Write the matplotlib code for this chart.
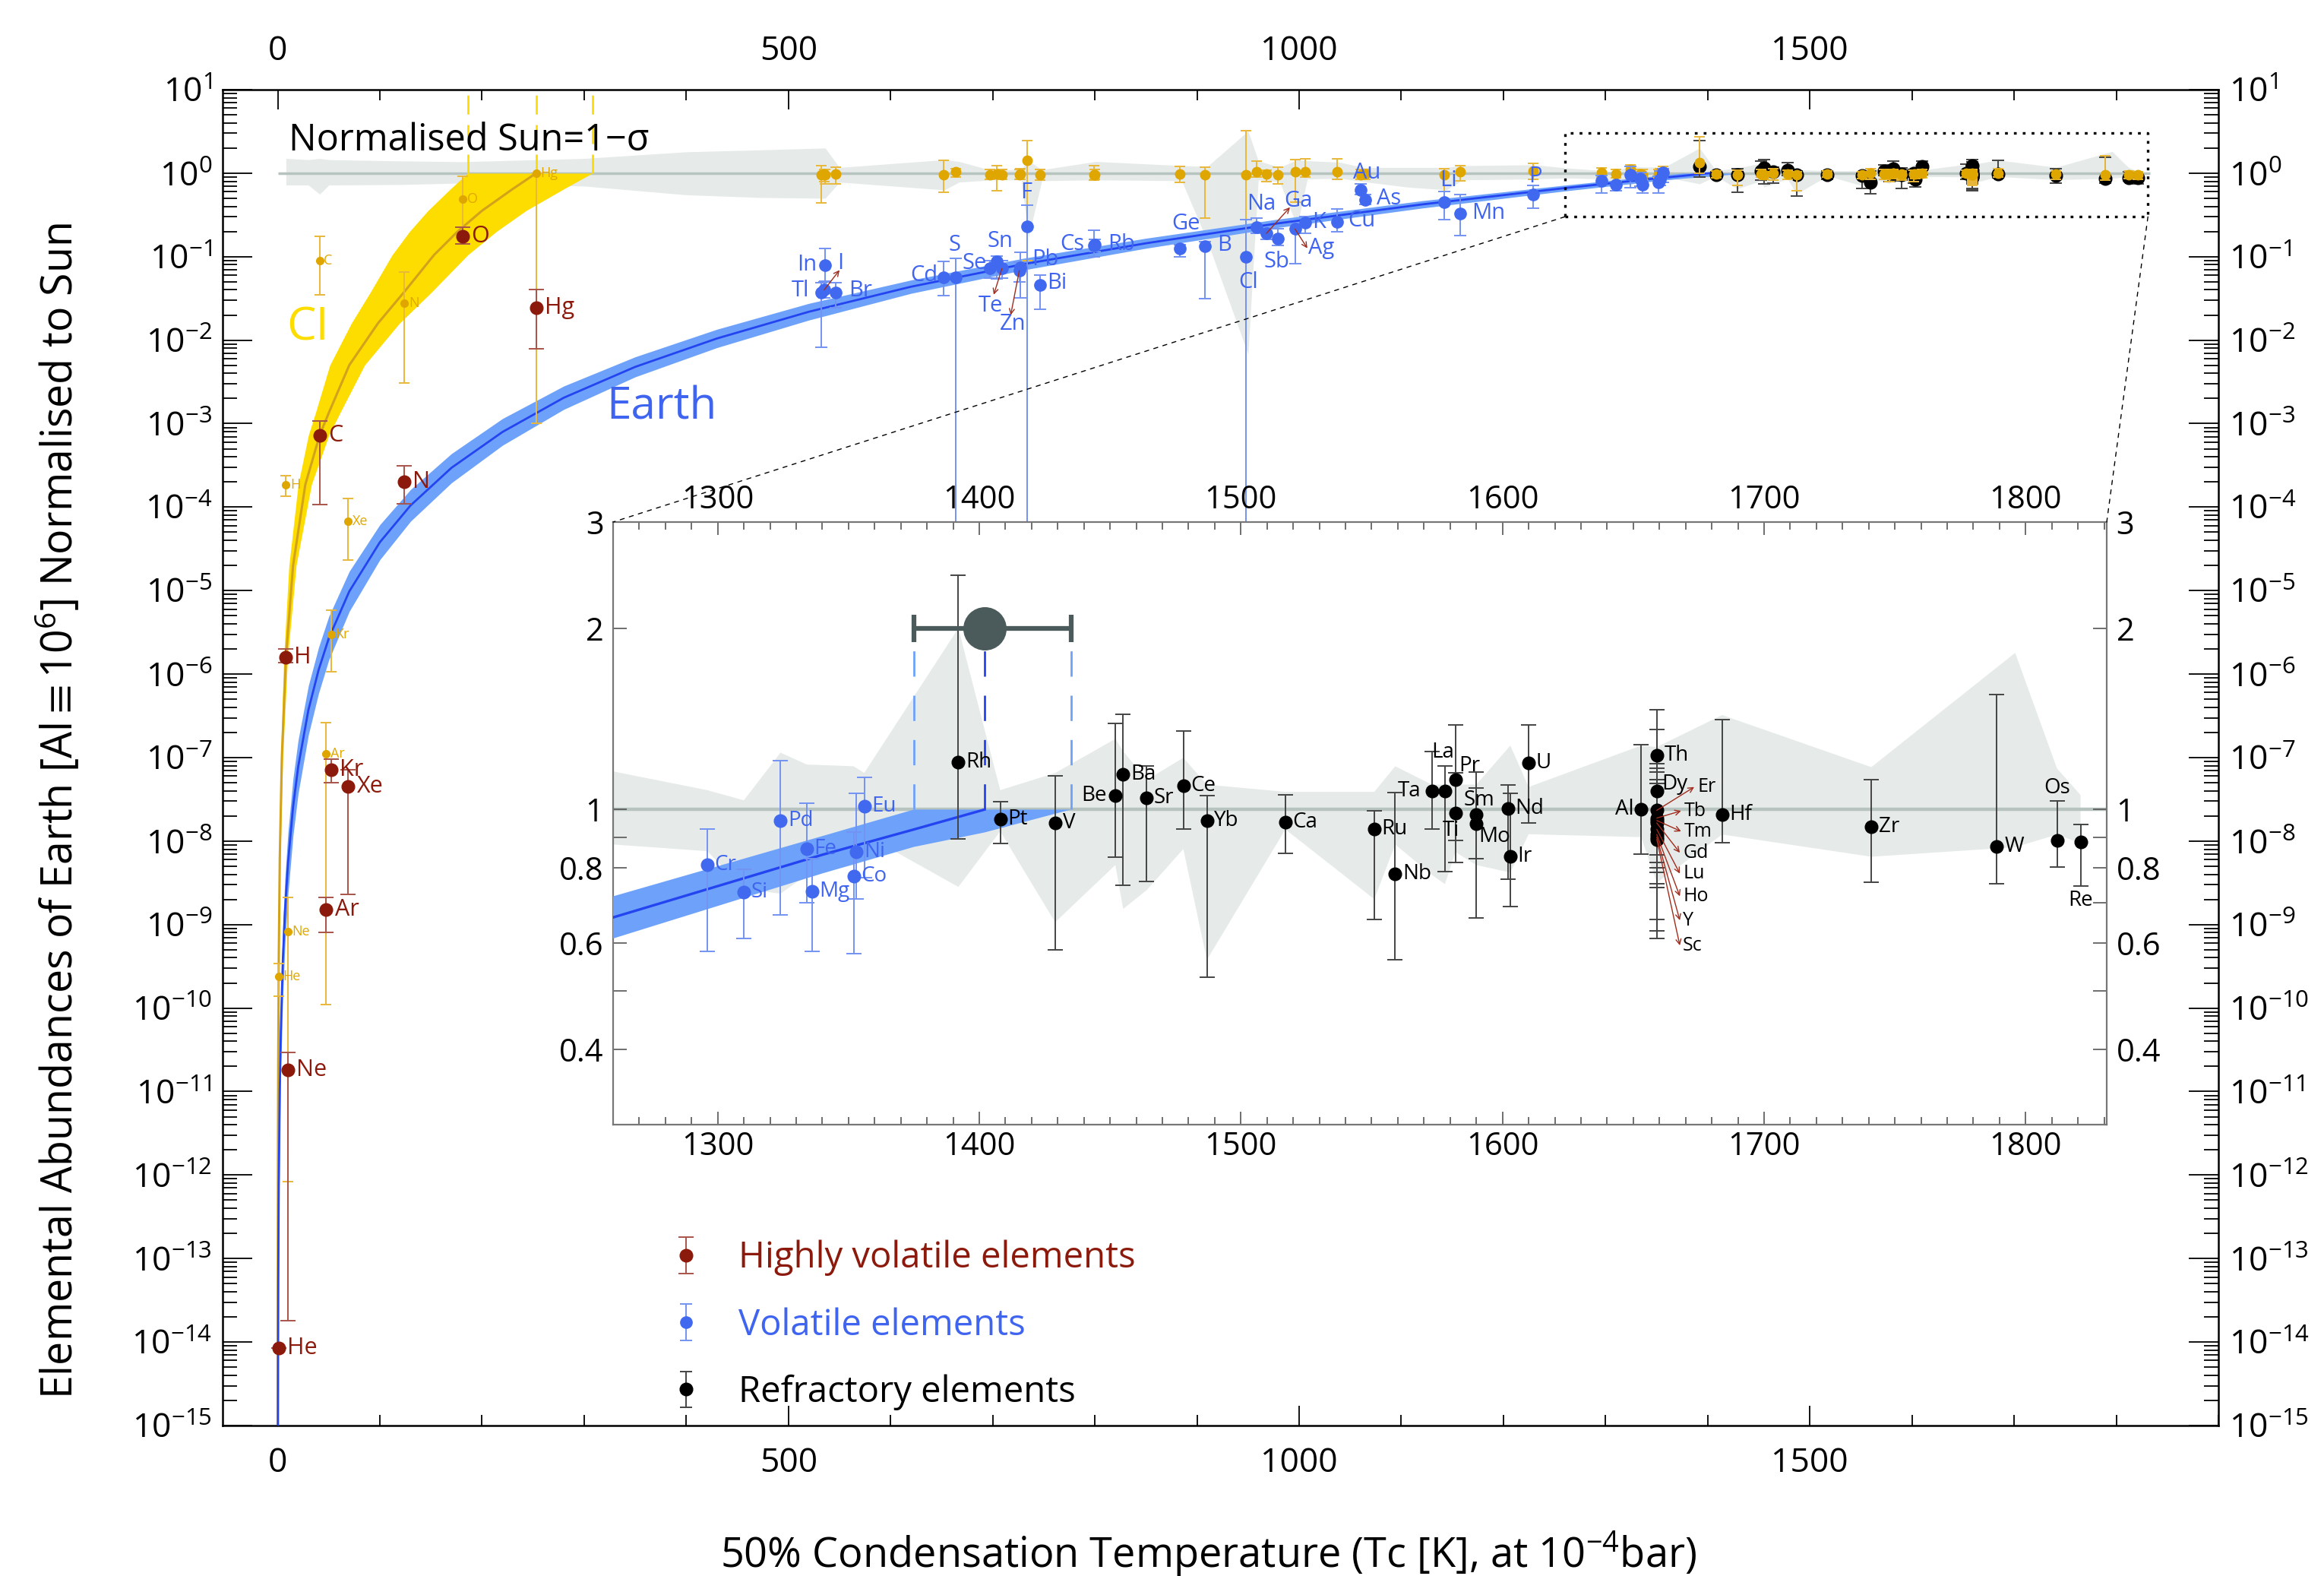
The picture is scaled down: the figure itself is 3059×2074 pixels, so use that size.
import numpy as np
import matplotlib
matplotlib.use("Agg")
import matplotlib.pyplot as plt
from matplotlib.ticker import MultipleLocator, LogLocator, FixedLocator, NullFormatter, FuncFormatter
from matplotlib.patches import ConnectionPatch

plt.rcParams['font.family'] = ['Open Sans', 'DejaVu Sans']
plt.rcParams['mathtext.fontset'] = 'custom'
plt.rcParams['mathtext.rm'] = 'Open Sans'
plt.rcParams['mathtext.it'] = 'Open Sans:italic'
plt.rcParams['mathtext.bf'] = 'Open Sans:bold'
plt.rcParams['mathtext.default'] = 'regular'

# ---------------------------------------------------------------- data
# highly volatile elements (Earth and CI chondrite, normalised to Sun)
hv_names = ["He", "H", "Ne", "Ar", "Kr", "Xe", "C", "N", "O", "Hg"]
hv_tc = [1, 8, 9.8, 47.5, 52, 69, 41, 124, 181, 253]
hv_earth = [8.5e-15, 1.6e-6, 1.8e-11, 1.5e-9, 7.2e-8, 4.5e-8, 7.2e-4, 2.0e-4, 0.174, 0.0245]
hv_earth_hi = [8.5e-15, 2.0e-6, 2.95e-11, 2.1e-9, 9.5e-8, 7.2e-8, 1.07e-3, 3.1e-4, 0.224, 0.040]
hv_earth_lo = [8.5e-15, 1.38e-6, 1.8e-14, 8.1e-10, 5.0e-8, 2.3e-9, 1.07e-4, 1.1e-4, 0.141, 7.8e-3]
hv_ci = [2.4e-10, 1.86e-4, 8.3e-10, 1.1e-7, 3.0e-6, 6.8e-5, 0.089, 0.0275, 0.49, 1.0]
hv_ci_hi = [3.4e-10, 2.4e-4, 2.1e-9, 2.6e-7, 5.8e-6, 1.26e-4, 0.174, 0.066, 0.91, 1.0]
hv_ci_lo = [1.4e-10, 1.35e-4, 8.3e-13, 1.1e-10, 1.07e-6, 2.3e-5, 0.035, 0.0031, 0.224, 1.0e-3]

# volatile elements
vol_names = ["Tl", "I", "In", "Br", "Cd", "S", "Se", "Sn", "Te", "Zn", "Pb", "F", "Bi", "Cs", "Rb",
             "Ge", "B", "Cl", "Na", "Ga", "Sb", "Ag", "K", "Cu", "Au", "As", "Li", "Mn", "P",
             "Cr", "Si", "Pd", "Fe", "Mg", "Co", "Ni", "Eu"]
vol_tc = [532, 535, 536, 546, 652, 664, 697, 704, 709, 726, 727, 734, 746, 799, 800,
          883, 908, 948, 958, 968, 979, 996, 1006, 1037, 1060, 1065, 1142, 1158, 1229,
          1296, 1310, 1324, 1334, 1336, 1352, 1353, 1356]
vol_earth = [0.0372, 0.040, 0.0794, 0.037, 0.0569, 0.0569, 0.072, 0.087, 0.072, 0.068, 0.074, 0.229,
             0.0457, 0.135, 0.138, 0.126, 0.132, 0.10, 0.226, 0.19, 0.166, 0.214, 0.257, 0.263, 0.63,
             0.48, 0.447, 0.331, 0.556, 0.81, 0.73, 0.958, 0.861, 0.731, 0.776, 0.852, 1.012]
vol_earth_hi = [0.049, 0.05, 0.126, 0.049, 0.087, 0.095, 0.09, 0.102, 0.09, 0.085, 0.112, 0.417,
                0.06, 0.209, 0.16, 0.14, 0.15, 0.28, 0.29, 0.22, 0.214, 0.25, 0.302, 0.37, 0.75,
                0.55, 0.6, 0.56, 0.716, 0.928, 0.796, 1.204, 1.025, 0.83, 0.918, 1.063, 1.13]
vol_earth_lo = [0.0083, 0.032, 0.051, 0.0245, 0.034, 1e-5, 0.055, 0.054, 0.055, 0.05, 0.032, 1e-5,
                0.0234, 0.10, 0.115, 0.10, 0.0316, 1e-5, 0.19, 0.16, 0.135, 0.083, 0.19, 0.20, 0.55,
                0.42, 0.275, 0.18, 0.38, 0.581, 0.611, 0.669, 0.70, 0.581, 0.577, 0.711, 0.77]
vol_ci = [0.96, 0.97, 0.96, 0.97, 0.95, 1.04, 0.96, 0.97, 0.96, 0.96, 0.97, 1.41, 0.96, 0.95, 0.95,
          0.97, 0.96, 0.95, 1.05, 0.98, 0.96, 1.05, 1.04, 1.05, 0.95, 0.97, 0.96, 1.03, 1.06,
          1.02, 0.98, 1.10, 0.97, 0.96, 0.98, 1.00, 1.05]
vol_ci_hi = [1.23, 1.1, 1.1, 1.18, 1.43, 1.13, 1.1, 1.24, 1.1, 1.1, 1.12, 2.46, 1.11, 1.24, 1.1,
             1.2, 1.17, 3.25, 1.4, 1.08, 1.17, 1.45, 1.5, 1.47, 1.1, 1.1, 1.12, 1.22, 1.3,
             1.15, 1.1, 1.25, 1.1, 1.1, 1.1, 1.12, 1.2]
vol_ci_lo = [0.44, 0.8, 0.75, 0.75, 0.59, 0.9, 0.85, 0.62, 0.85, 0.85, 0.85, 0.09, 0.83, 0.83, 0.85,
             0.78, 0.29, 1e-5, 0.9, 0.8, 0.75, 0.45, 0.9, 0.85, 0.85, 0.85, 0.6, 0.81, 0.85,
             0.9, 0.88, 0.9, 0.88, 0.85, 0.88, 0.9, 0.9]

# refractory elements
ref_names = ["Rh", "Pt", "V", "Be", "Ba", "Sr", "Ce", "Yb", "Ca", "Ru", "Nb", "Ta", "La", "Ti", "Pr",
             "Sm", "Mo", "Nd", "Ir", "U", "Al", "Th", "Dy", "Er", "Tb", "Tm", "Gd", "Lu", "Ho", "Y",
             "Sc", "Hf", "Zr", "W", "Os", "Re"]
ref_tc = [1392, 1408, 1429, 1452, 1455, 1464, 1478, 1487, 1517, 1551, 1559, 1573, 1578, 1582, 1582,
          1590, 1590, 1602, 1603, 1610, 1653, 1659, 1659, 1659, 1659, 1659, 1659, 1659, 1659, 1659,
          1659, 1684, 1741, 1789, 1812, 1821]
ref_earth = [1.20, 0.965, 0.949, 1.056, 1.145, 1.045, 1.094, 0.958, 0.954, 0.927, 0.782, 1.072, 1.072,
             0.987, 1.12, 0.98, 0.947, 1.004, 0.836, 1.195, 1.00, 1.229, 1.074, 0.997, 0.968, 0.959,
             0.95, 0.927, 0.909, 0.90, 0.892, 0.98, 0.936, 0.868, 0.888, 0.883]
ref_earth_hi = [2.45, 1.032, 1.138, 1.39, 1.44, 1.18, 1.35, 1.055, 1.057, 0.995, 1.067, 1.25, 1.18,
                1.15, 1.38, 1.085, 1.155, 1.10, 1.064, 1.38, 1.28, 1.463, 1.357, 1.193, 1.17, 1.153,
                1.12, 1.106, 1.12, 1.106, 1.153, 1.41, 1.12, 1.55, 1.033, 0.945]
ref_earth_lo = [0.893, 0.878, 0.585, 0.834, 0.749, 0.76, 0.929, 0.527, 0.847, 0.657, 0.563, 0.927, 0.79,
                0.89, 0.817, 0.83, 0.66, 0.767, 0.69, 0.95, 0.843, 0.657, 0.801, 0.786, 0.817, 0.841,
                0.753, 0.742, 0.629, 0.611, 0.742, 0.88, 0.758, 0.754, 0.803, 0.747]
ref_ci = [1.35, 0.97, 0.95, 0.98, 0.96, 1.0, 0.98, 0.95, 0.97, 0.96, 1.0, 0.98, 0.97, 0.99, 1.0,
          0.96, 0.97, 0.98, 0.97, 0.99, 1.0, 0.97, 0.98, 0.99, 0.96, 0.97, 0.98, 0.95, 0.97, 0.98,
          0.96, 1.0, 0.97, 0.95, 0.96, 0.95]
ref_ci_hi = [2.7, 1.06, 1.08, 1.1, 1.05, 1.12, 1.08, 1.05, 1.06, 1.05, 1.12, 1.1, 1.06, 1.08, 1.1,
             1.05, 1.06, 1.08, 1.06, 1.1, 1.08, 1.1, 1.09, 1.08, 1.05, 1.06, 1.08, 1.04, 1.06, 1.1,
             1.06, 1.12, 1.06, 1.6, 1.06, 1.05]
ref_ci_lo = [1.0, 0.88, 0.72, 0.9, 0.85, 0.82, 0.85, 0.62, 0.9, 0.86, 0.84, 0.85, 0.8, 0.86, 0.9,
             0.82, 0.84, 0.8, 0.86, 0.88, 0.9, 0.72, 0.74, 0.8, 0.84, 0.88, 0.86, 0.83, 0.84, 0.8,
             0.76, 0.9, 0.85, 0.82, 0.86, 0.84]

# Earth depletion curve (log10 values) and its band
earth_tc = [0.18, 0.3, 0.5, 1, 2, 3, 5, 7, 10, 15, 20, 30, 40, 50, 70, 100, 130, 170, 220, 280,
            350, 430, 520, 620, 730, 850, 980, 1120, 1260, 1340, 1375, 1402]
earth_log = [-15.0, -14.13, -13.27, -12.12, -10.96, -10.28, -9.42, -8.86, -8.27, -7.59, -7.11, -6.43,
             -5.95, -5.57, -5.01, -4.42, -3.98, -3.53, -3.10, -2.69, -2.32, -1.98, -1.66, -1.36,
             -1.09, -0.84, -0.60, -0.375, -0.179, -0.075, -0.033, 0.0]
earth_band_tc = [0.18, 0.3, 0.5, 1, 2, 3, 5, 7, 10, 15, 20, 30, 40, 50, 70, 100, 130, 170, 220, 280,
                 350, 430, 520, 620, 730, 850, 980, 1120, 1260, 1340, 1375, 1402, 1435]
earth_band_hi_log = [-14.35, -13.52, -12.69, -11.59, -10.48, -9.83, -9.00, -8.46, -7.90, -7.25, -6.79,
                     -6.14, -5.68, -5.31, -4.77, -4.21, -3.79, -3.36, -2.94, -2.55, -2.20, -1.87,
                     -1.56, -1.28, -1.02, -0.78, -0.55, -0.331, -0.144, -0.044, 0.0, 0.0, 0.0]
earth_band_lo_log = [-15.65, -14.75, -13.85, -12.65, -11.44, -10.74, -9.84, -9.26, -8.64, -7.93, -7.43,
                     -6.73, -6.23, -5.83, -5.25, -4.63, -4.17, -3.71, -3.26, -2.83, -2.44, -2.09,
                     -1.76, -1.44, -1.16, -0.90, -0.65, -0.419, -0.214, -0.106, -0.062, -0.038, 0.0]
earth_t50, earth_t50_lo, earth_t50_hi = 1402, 1375, 1435

# CI chondrite depletion curve and its band
ci_tc = [0.04, 0.1, 0.25, 0.5, 1, 2, 4, 8, 15, 27, 41, 50, 70, 98, 124, 153, 176, 200, 230, 253]
ci_log = [-15, -13.3, -11.8, -10.6, -9.4, -8.2, -7.0, -5.8, -4.7, -3.73, -3.14, -2.87, -2.3, -1.8,
          -1.42, -0.98, -0.70, -0.45, -0.19, 0]
ci_band_left = [0.03, 0.07, 0.18, 0.37, 0.74, 1.5, 2.9, 5.9, 11, 20, 30, 37, 51, 72, 91, 112, 129,
                147, 169, 186]
ci_band_right = [0.05, 0.12, 0.30, 0.61, 1.2, 2.4, 4.9, 9.7, 18, 33, 50, 61, 85, 119, 151, 186, 214,
                 243, 280, 308]

# solar 1-sigma band
sun_tc = [8, 30, 41, 50, 120, 180, 300, 400, 473, 536, 550, 653, 667, 700, 728, 735, 748, 801, 885, 910,
          950, 960, 981, 998, 1008, 1040, 1063, 1106, 1144, 1160, 1231, 1260, 1296, 1310, 1324, 1334,
          1352, 1356, 1392, 1408, 1429, 1452, 1455, 1464, 1478, 1487, 1517, 1551, 1559, 1573, 1578,
          1582, 1590, 1603, 1610, 1653, 1659, 1684, 1741, 1796, 1812, 1821]
sun_hi = [1.5, 1.45, 1.5, 1.45, 1.4, 1.37, 1.5, 1.8, 1.9, 2.0, 1.17, 1.45, 1.38, 1.07, 1.12, 1.41, 1.1,
          1.38, 1.23, 1.2, 3.2, 1.41, 1.17, 1.45, 1.41, 1.35, 1.17, 1.17, 1.17, 1.23, 1.26, 1.157,
          1.077, 1.036, 1.243, 1.188, 1.18, 1.15, 2.0, 1.077, 1.15, 1.31, 1.25, 1.12, 1.219, 1.1,
          1.07, 1.07, 1.18, 1.1, 1.1, 1.1, 1.1, 1.277, 1.09, 1.277, 1.27, 1.435, 1.176, 1.82, 1.17,
          1.057]
sun_lo = [0.72, 0.72, 0.56, 0.72, 0.73, 0.76, 0.7, 0.55, 0.51, 0.5, 0.78, 0.63, 0.78, 0.83, 0.83, 0.17,
          0.81, 0.83, 0.81, 0.155, 0.0068, 0.83, 0.79, 0.23, 0.85, 0.87, 0.79, 0.68, 0.63, 0.83, 0.85,
          0.875, 0.853, 0.739, 0.725, 0.779, 0.809, 0.91, 0.744, 0.92, 0.65, 0.809, 0.684, 0.735,
          0.86, 0.563, 0.927, 0.71, 0.875, 0.779, 0.752, 0.85, 0.809, 0.786, 0.91, 0.9, 0.756,
          0.909, 0.835, 0.866, 0.909, 0.879]
sun_line_tc = [0, 1833]

# ---------------------------------------------------------------- style
HV_COL, HV_ERR = '#8c1a0c', '#a8544a'
VOL_COL, VOL_ERR, VOL_TXT = '#4169f0', '#7393f3', '#3f64ef'
REF_ERR = '#444444'
CI_PT, CI_ERR, CI_TXT = '#dfa600', '#e9b83a', '#e0a800'
CI_BAND, CI_LINE = '#fddc00', '#d2a21c'
EARTH_BAND, EARTH_LINE = '#6ea2fa', '#2344f0'
GRAY_BAND, SUN_LINE = '#e6ebea', '#b7c3bf'
T50_COL = '#4b5a5a'
ARROW_COL = '#a02c1e'

fig = plt.figure(figsize=(30.59, 20.74), dpi=100)
ax = fig.add_axes([0.09578, 0.09547, 0.85878, 0.84764])
ax.set_yscale('log')
ax.set_xlim(-54, 1900)
ax.set_ylim(1e-15, 10)


def eb(axx, x, y, hi, lo, color, ecolor, ms, cap, z, elw=1.4):
    y = np.asarray(y, float)
    yerr = [y - np.asarray(lo, float), np.asarray(hi, float) - y]
    return axx.errorbar(x, y, yerr=yerr, fmt='o', color=color, mec=color, ms=ms, ecolor=ecolor,
                        elinewidth=elw, capsize=cap, capthick=elw, zorder=z)


# bands and curves
ax.fill_between(sun_tc, sun_lo, sun_hi, color=GRAY_BAND, lw=0, zorder=1)
ax.hlines(1, sun_line_tc[0], sun_line_tc[1], color=SUN_LINE, lw=2.5, zorder=1.5)
ci_lv = 10.0 ** np.array(ci_log)
ax.fill_betweenx(ci_lv, ci_band_left, ci_band_right, color=CI_BAND, lw=0, zorder=2)
ax.plot(ci_tc, ci_lv, color=CI_LINE, lw=2.2, zorder=2.5)
ax.vlines([ci_band_left[-1], ci_tc[-1], ci_band_right[-1]], 1, 10, colors=CI_BAND,
          linestyles=(0, (9, 5)), lw=2.0, zorder=2)
ax.fill_between(earth_band_tc, 10.0 ** np.array(earth_band_lo_log), 10.0 ** np.array(earth_band_hi_log),
                color=EARTH_BAND, lw=0, zorder=3)
ax.plot(earth_tc, 10.0 ** np.array(earth_log), color=EARTH_LINE, lw=2.0, zorder=3.5)

# points
eb(ax, hv_tc, hv_ci, hv_ci_hi, hv_ci_lo, CI_PT, CI_ERR, 7, 5, 5)
eb(ax, vol_tc, vol_ci, vol_ci_hi, vol_ci_lo, CI_PT, CI_ERR, 9, 5, 5)
h_ref = eb(ax, ref_tc, ref_earth, ref_earth_hi, ref_earth_lo, 'black', REF_ERR, 12, 6, 5.5)
eb(ax, ref_tc, ref_ci, ref_ci_hi, ref_ci_lo, CI_PT, CI_ERR, 9, 5, 6.5)
h_hv = eb(ax, hv_tc, hv_earth, hv_earth_hi, hv_earth_lo, HV_COL, HV_ERR, 12, 7, 6)
h_vol = eb(ax, vol_tc, vol_earth, vol_earth_hi, vol_earth_lo, VOL_COL, VOL_ERR, 11, 6, 6)

# labels of highly volatile elements
for n, t, e, c in zip(hv_names, hv_tc, hv_earth, hv_ci):
    ax.annotate(n, (t, e), xytext=(8, 0), textcoords='offset points', ha='left', va='center',
                fontsize=22, color=HV_COL, zorder=8)
    ax.annotate(n, (t, c), xytext=(4, 0), textcoords='offset points', ha='left', va='center',
                fontsize=13, color=CI_TXT, zorder=8)

main_vol_label = {
    'In': (528, 0.079, 'right'), 'I': (548, 0.083, 'left'), 'Tl': (520, 0.039, 'right'),
    'Br': (559, 0.039, 'left'), 'Cd': (646, 0.060, 'right'), 'S': (663, 0.137, 'center'),
    'Se': (670, 0.083, 'left'), 'Sn': (707, 0.152, 'center'), 'Te': (698, 0.026, 'center'),
    'Zn': (720, 0.0155, 'center'), 'Pb': (738, 0.092, 'left'), 'F': (733, 0.59, 'center'),
    'Bi': (753, 0.048, 'left'), 'Cs': (790, 0.14, 'right'), 'Rb': (813, 0.14, 'left'),
    'Ge': (889, 0.246, 'center'), 'B': (920, 0.137, 'left'), 'Cl': (950, 0.049, 'center'),
    'Na': (963, 0.43, 'center'), 'Ga': (999, 0.46, 'center'), 'Sb': (978, 0.086, 'center'),
    'K': (1013, 0.256, 'left'), 'Ag': (1022, 0.126, 'center'), 'Cu': (1048, 0.27, 'left'),
    'Au': (1066, 1.0, 'center'), 'As': (1076, 0.49, 'left'), 'Li': (1146, 0.81, 'center'),
    'Mn': (1169, 0.33, 'left'), 'P': (1231, 0.9, 'center'),
}
main_arrow_end = {'I': (550, 0.069), 'Te': (701, 0.035), 'Zn': (717.6, 0.020),
                  'Ga': (991, 0.39), 'Ag': (1008, 0.126)}
for n, (tx, ty, ha) in main_vol_label.items():
    ax.text(tx, ty, n, ha=ha, va='center', fontsize=21, color=VOL_TXT, zorder=8)
for n, end in main_arrow_end.items():
    i = vol_names.index(n)
    ax.annotate('', xy=end, xytext=(vol_tc[i], vol_earth[i]),
                arrowprops=dict(arrowstyle='->', color=ARROW_COL, lw=1.0, shrinkA=0, shrinkB=0,
                                mutation_scale=12), zorder=8)

ax.text(9, 0.0141, 'CI', fontsize=44, color=CI_BAND, ha='left', va='center', zorder=8)
ax.text(322, 1.55e-3, 'Earth', fontsize=42, color=VOL_TXT, ha='left', va='center', zorder=8)
ax.text(0.0331, 0.962, 'Normalised Sun=1\u2212\u03c3', transform=ax.transAxes, fontsize=35,
        ha='left', va='center', zorder=8)

# ticks
ax.xaxis.set_major_locator(MultipleLocator(500))
ax.xaxis.set_minor_locator(MultipleLocator(100))
ax.yaxis.set_major_locator(LogLocator(base=10, numticks=40))
ax.yaxis.set_minor_locator(LogLocator(base=10, subs=np.arange(2, 10), numticks=40))
ax.yaxis.set_minor_formatter(NullFormatter())
ax.tick_params(which='both', direction='in', top=True, right=True, labeltop=True, labelright=True,
               labelsize=32, width=1.3)
ax.tick_params(axis='y', which='major', length=28, pad=10)
ax.tick_params(axis='y', which='minor', length=14)
ax.tick_params(axis='x', which='major', length=19, pad=20)
ax.tick_params(axis='x', which='minor', length=10)
for s in ax.spines.values():
    s.set_linewidth(1.8)

ax.set_ylabel(r'Elemental Abundances of Earth [Al$\equiv$10$^{6}$] Normalised to Sun', fontsize=40)
ax.yaxis.label.set_va('center')
ax.yaxis.set_label_coords(-0.0818, 0.46)
ax.set_xlabel('50% Condensation Temperature (Tc [K], at 10$^{-4}$bar)', fontsize=39)
ax.xaxis.label.set_va('center')
ax.xaxis.set_label_coords(0.494, -0.096)

leg = ax.legend([h_hv, h_vol, h_ref], ['Highly volatile elements', 'Volatile elements', 'Refractory elements'],
                loc='upper left', bbox_to_anchor=(0.2232, 0.1388), frameon=False, fontsize=34,
                handlelength=1.0, handletextpad=0.96, labelspacing=0.86, borderpad=0, borderaxespad=0,
                labelcolor=[HV_COL, VOL_TXT, 'black'])
leg.set_zorder(9)

# ---------------------------------------------------------------- inset
ax_in = fig.add_axes([0.26381, 0.28640, 0.64270, 0.38235])
ax_in.set_yscale('log')
ax_in.set_xlim(1260, 1831)
ax_in.set_ylim(0.3, 3)
ax_in.fill_between(sun_tc, sun_lo, sun_hi, color=GRAY_BAND, lw=0, zorder=1)
ax_in.axhline(1, color=SUN_LINE, lw=3.2, zorder=1.5)
ax_in.fill_between(earth_band_tc, 10.0 ** np.array(earth_band_lo_log), 10.0 ** np.array(earth_band_hi_log),
                   color=EARTH_BAND, lw=0, zorder=3)
ax_in.plot(earth_tc, 10.0 ** np.array(earth_log), color=EARTH_LINE, lw=2.4, zorder=3.5)
T50_MARK_Y = 2.0
ax_in.vlines([earth_t50_lo, earth_t50_hi], 1, 1.9, colors=EARTH_BAND, linestyles=(0, (12, 9)), lw=2,
             zorder=4)
ax_in.vlines([earth_t50], 1, 1.85, colors=EARTH_LINE, linestyles=(0, (12, 9)), lw=2, zorder=4)
ax_in.errorbar([earth_t50], [T50_MARK_Y], xerr=[[earth_t50 - earth_t50_lo], [earth_t50_hi - earth_t50]],
               fmt='o', ms=40, color=T50_COL, ecolor=T50_COL, elinewidth=4.5, capsize=13, capthick=4.5,
               zorder=8)

in_vol = [i for i, t in enumerate(vol_tc) if t >= 1260]
eb(ax_in, [vol_tc[i] for i in in_vol], [vol_earth[i] for i in in_vol], [vol_earth_hi[i] for i in in_vol],
   [vol_earth_lo[i] for i in in_vol], VOL_COL, VOL_ERR, 12, 7, 6)
eb(ax_in, ref_tc, ref_earth, ref_earth_hi, ref_earth_lo, 'black', REF_ERR, 12, 7, 6)

for i in in_vol:
    ax_in.annotate(vol_names[i], (vol_tc[i], vol_earth[i]), xytext=(7, 0), textcoords='offset points',
                   ha='left', va='center', fontsize=20, color=VOL_TXT, zorder=9)

inset_special = {'Be': (-8, 0, 'right'), 'Ta': (-10, 0, 'right'), 'La': (-2, 37, 'center'),
                 'Pr': (3, 13, 'left'), 'Ti': (-4, -17, 'center'), 'Sm': (-12, 14, 'left'),
                 'Mo': (2, -12, 'left'), 'Al': (-7, 0, 'right'), 'Dy': (5, 6, 'left'),
                 'Os': (0, 50, 'center'), 'Re': (0, -55, 'center')}
ree_label_pos = {'Er': (1674.5, 1.09), 'Tb': (1669.5, 0.995), 'Tm': (1669.5, 0.92), 'Gd': (1669, 0.848),
                 'Lu': (1669, 0.783), 'Ho': (1669, 0.718), 'Y': (1669, 0.655), 'Sc': (1669, 0.595)}
for n, t, e in zip(ref_names, ref_tc, ref_earth):
    if n in ree_label_pos:
        lx, ly = ree_label_pos[n]
        ax_in.annotate('', xy=(lx - 1.2, ly), xytext=(t, e),
                       arrowprops=dict(arrowstyle='->', color=ARROW_COL, lw=1.0, shrinkA=0, shrinkB=0,
                                       mutation_scale=12), zorder=8)
        ax_in.text(lx, ly, n, ha='left', va='center', fontsize=18, zorder=9)
        continue
    dx, dy, ha = inset_special.get(n, (7, 0, 'left'))
    ax_in.annotate(n, (t, e), xytext=(dx, dy), textcoords='offset points', ha=ha, va='center',
                   fontsize=20, color='black', zorder=9)

ax_in.xaxis.set_major_locator(MultipleLocator(100))
ax_in.xaxis.set_minor_locator(MultipleLocator(10))
ax_in.yaxis.set_major_locator(FixedLocator([0.4, 0.6, 0.8, 1, 2, 3]))
ax_in.yaxis.set_major_formatter(FuncFormatter(lambda v, p: f'{v:g}'))
ax_in.yaxis.set_minor_locator(FixedLocator([0.5, 0.7, 0.9]))
ax_in.yaxis.set_minor_formatter(NullFormatter())
ax_in.tick_params(which='both', direction='in', top=True, right=True, labeltop=True, labelright=True,
                  width=1.2, color='#555555')
ax_in.tick_params(axis='x', which='major', length=12, labelsize=30, pad=6)
ax_in.tick_params(axis='x', which='minor', length=7)
ax_in.tick_params(axis='y', which='both', length=13, labelsize=30, pad=9)
for s in ax_in.spines.values():
    s.set_color('#777777')
    s.set_linewidth(1.6)

# zoom rectangle and connectors
x0, x1 = ax_in.get_xlim()
y0, y1 = ax_in.get_ylim()
ax.plot([x0, x1, x1, x0, x0], [y0, y0, y1, y1, y0], color='black', lw=2.4, ls=(0, (1.1, 2.4)), zorder=7)
for xa, xb in [(x0, 0), (x1, 1)]:
    cp = ConnectionPatch(xyA=(xa, y0), coordsA=ax.transData, xyB=(xb, 1), coordsB=ax_in.transAxes,
                         color='black', lw=1.0, linestyle=(0, (4, 5)))
    fig.add_artist(cp)

fig.savefig('out.png', dpi=100)
